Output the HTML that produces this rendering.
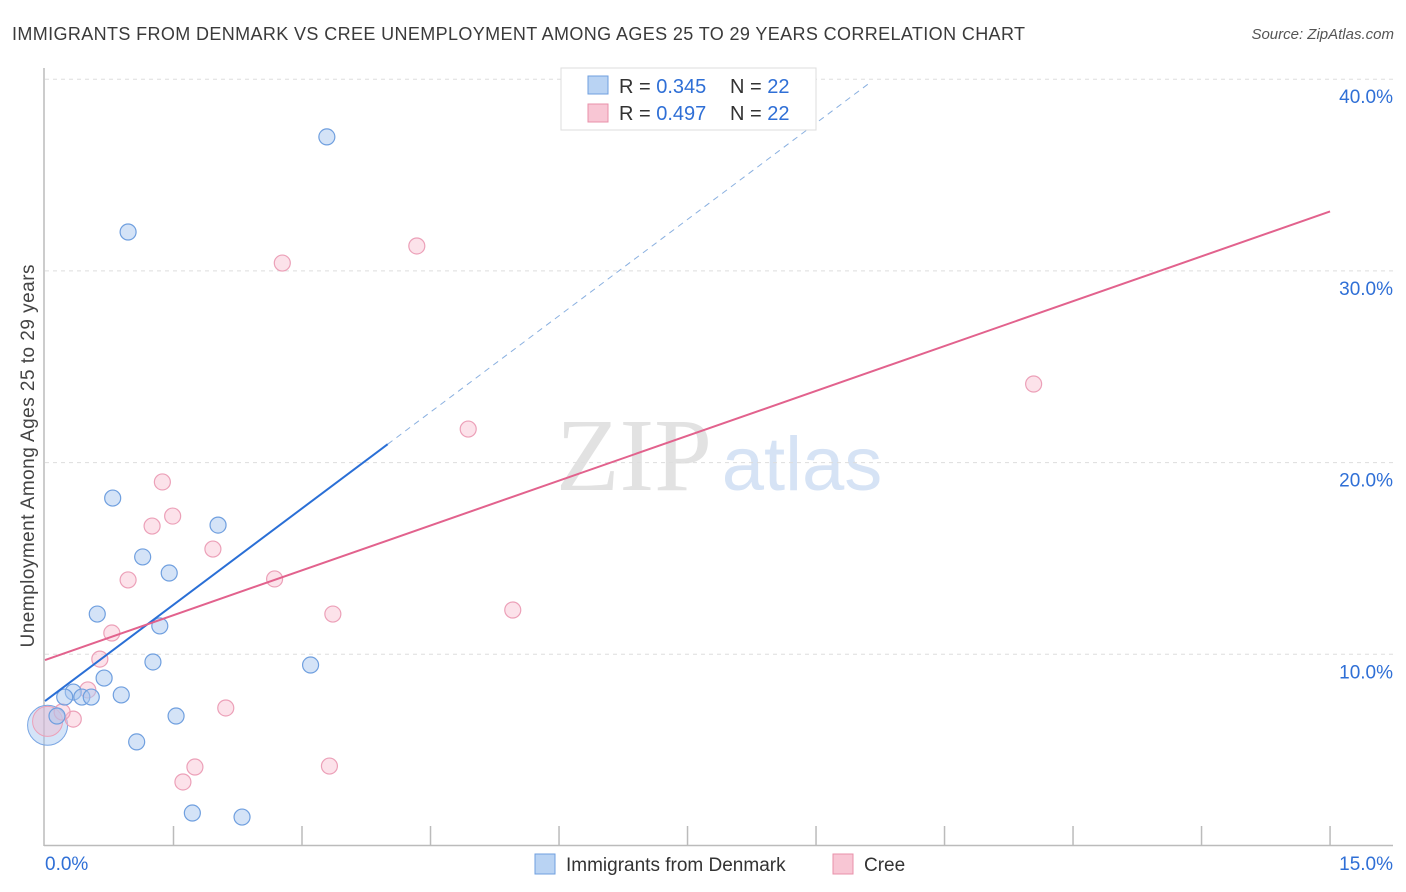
<!DOCTYPE html>
<html><head><meta charset="utf-8">
<style>
body{margin:0;background:#fff;font-family:"Liberation Sans",sans-serif;}
svg{display:block}
</style></head>
<body>
<svg width="1406" height="892" id="chart">
<text x="12" y="40" font-size="18" fill="#3a3a3a" textLength="1013">IMMIGRANTS FROM DENMARK VS CREE UNEMPLOYMENT AMONG AGES 25 TO 29 YEARS CORRELATION CHART</text>
<text x="1394" y="39" font-size="15" fill="#555" font-style="italic" text-anchor="end">Source: ZipAtlas.com</text>
<text x="0" y="0" font-size="19" fill="#444" transform="translate(34,456) rotate(-90)" text-anchor="middle" textLength="383">Unemployment Among Ages 25 to 29 years</text>
<text x="634" y="490" font-size="104" fill="#e2e2e2" font-family="Liberation Serif,serif" text-anchor="middle">ZIP</text>
<text x="802" y="490" font-size="76" fill="#d6e3f5" text-anchor="middle">atlas</text>
<g id="grid"></g>
<g id="axes"></g>
<g id="marks"></g>
<g>
<rect x="561" y="68" width="255" height="62" fill="#fff" stroke="#ddd"/>
<rect x="588" y="76" width="20" height="18" fill="#b9d3f3" stroke="#6f9fdf"/>
<text x="619" y="93" font-size="20" fill="#333">R = <tspan fill="#2f6fd6">0.345</tspan></text>
<text x="730" y="93" font-size="20" fill="#333">N = <tspan fill="#2f6fd6">22</tspan></text>
<rect x="588" y="104" width="20" height="18" fill="#f8c6d4" stroke="#e890aa"/>
<text x="619" y="120" font-size="20" fill="#333">R = <tspan fill="#2f6fd6">0.497</tspan></text>
<text x="730" y="120" font-size="20" fill="#333">N = <tspan fill="#2f6fd6">22</tspan></text>
</g>
<g>
<rect x="535" y="854" width="20" height="20" fill="#b9d3f3" stroke="#6f9fdf"/>
<text x="566" y="871" font-size="19" fill="#333">Immigrants from Denmark</text>
<rect x="833" y="854" width="20" height="20" fill="#f8c6d4" stroke="#e890aa"/>
<text x="864" y="871" font-size="19" fill="#333">Cree</text>
</g>
</svg>
<script>
const blueX=[3.29,0.97,0.79,2.02,1.14,1.45,0.61,1.34,1.26,3.10,0.69,0.33,0.43,0.54,0.89,1.53,0.14,1.07,1.72,2.30,0.23];
const blueY=[36.99,32.03,18.15,16.74,15.08,14.24,12.10,11.48,9.60,9.44,8.76,8.03,7.77,7.77,7.88,6.78,6.78,5.43,1.72,1.51,7.77];
const pinkX=[2.77,4.34,11.54,4.94,1.37,1.49,1.25,1.96,0.97,2.68,3.36,5.46,0.78,0.64,0.50,2.11,0.33,0.20,1.75,1.61,3.32];
const pinkY=[30.41,31.30,24.10,21.75,18.99,17.21,16.69,15.49,13.88,13.93,12.10,12.31,11.11,9.75,8.14,7.20,6.62,6.99,4.12,3.34,4.17];
const yTicks=[10,20,30,40];
const yTickLabels=["10.0%","20.0%","30.0%","40.0%"];
const blueTrend=[7.56,3.35];
const pinkTrend=[9.70,1.56];
const xs=v=>45+v*85.67, ys=v=>846-v*19.17;
const NS="http://www.w3.org/2000/svg";
function mk(t,a,p){const e=document.createElementNS(NS,t);for(const k in a)e.setAttribute(k,a[k]);p.appendChild(e);return e;}
const grid=document.getElementById('grid'),axes=document.getElementById('axes'),marks=document.getElementById('marks');
yTicks.forEach((t,i)=>{
 const l=mk('line',{x1:45,x2:1393,y1:ys(t),y2:ys(t),stroke:'#ddd','stroke-dasharray':'4,4'},grid);
 
 
 const tx=mk('text',{x:1393,y:ys(t)+24,'font-size':19,fill:'#2f6fd6','text-anchor':'end'},axes);
 tx.textContent=yTickLabels[i];
 
 
});
mk('line',{x1:44,x2:44,y1:68,y2:846,stroke:'#bbb','stroke-width':1.5},axes);
mk('line',{x1:44,x2:1393,y1:845.5,y2:845.5,stroke:'#bbb','stroke-width':1.5},axes);
for(let i=1;i<=10;i++){const x=xs(i*1.5);mk('line',{x1:x,x2:x,y1:826,y2:845,stroke:'#bbb','stroke-width':1.5},axes);}
let t0=mk('text',{x:45,y:870,'font-size':19,fill:'#2f6fd6'},axes);t0.textContent='0.0%';


let t1=mk('text',{x:1393,y:870,'font-size':19,fill:'#2f6fd6','text-anchor':'end'},axes);t1.textContent='15.0%';


let bc=mk('circle',{cx:xs(0.03),cy:ys(6.3),r:20,fill:'rgba(160,195,240,0.45)',stroke:'#7aa6e3'},marks);


let pc=mk('circle',{cx:xs(0.03),cy:ys(6.5),r:15,fill:'rgba(245,180,200,0.4)',stroke:'#eca0b8'},marks);


pinkX.forEach((x,i)=>{const c=mk('circle',{cx:xs(x),cy:ys(pinkY[i]),r:8,fill:'rgba(248,190,208,0.45)',stroke:'#eca0b8','stroke-width':1.2},marks);
 
 });
blueX.forEach((x,i)=>{const c=mk('circle',{cx:xs(x),cy:ys(blueY[i]),r:8,fill:'rgba(170,200,240,0.5)',stroke:'#6f9fdf','stroke-width':1.2},marks);
 
 });
let bl=mk('line',{x1:xs(0),y1:ys(blueTrend[0]),x2:xs(4),y2:ys(blueTrend[0]+blueTrend[1]*4),stroke:'#2a6fd6','stroke-width':2},marks);


let bd=mk('line',{x1:xs(4),y1:ys(blueTrend[0]+blueTrend[1]*4),x2:xs(9.65),y2:ys(blueTrend[0]+blueTrend[1]*9.65),stroke:'#8ab0e0','stroke-width':1,'stroke-dasharray':'6,5'},marks);


let pl=mk('line',{x1:xs(0),y1:ys(pinkTrend[0]),x2:xs(15),y2:ys(pinkTrend[0]+pinkTrend[1]*15),stroke:'#e2628d','stroke-width':2},marks);


</script>
</body></html>
